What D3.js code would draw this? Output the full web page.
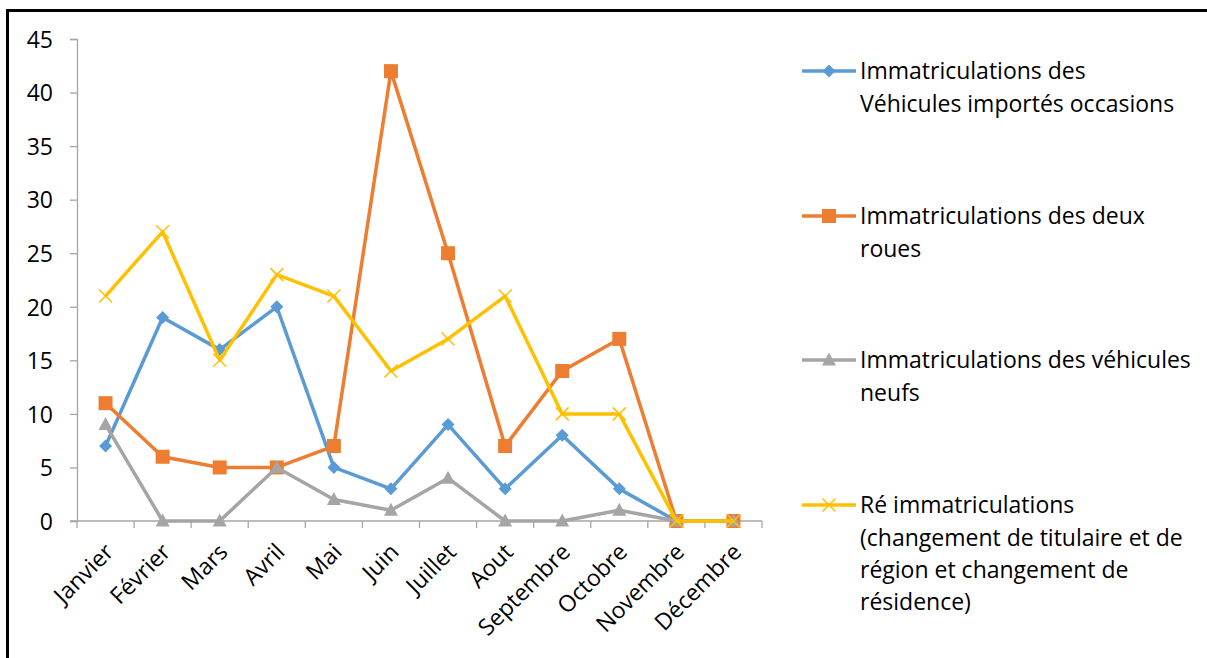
<!DOCTYPE html>
<html lang="fr">
<head>
<meta charset="utf-8">
<title>Immatriculations par mois</title>
<script src="https://cdnjs.cloudflare.com/ajax/libs/d3/7.8.5/d3.min.js"></script>
<style>
body { margin: 0; background: #fff; }
text { font-family: "Open Sans", sans-serif; fill: #000; }
.axis path, .axis line { stroke: #a6a6a6; stroke-width: 1.3; }
</style>
</head>
<body>
<div id="chart"></div>
<script>

var months = ["Janvier", "Février", "Mars", "Avril", "Mai", "Juin", "Juillet",
              "Aout", "Septembre", "Octobre", "Novembre", "Décembre"];

var importes = [7, 19, 16, 20, 5, 3, 9, 3, 8, 3, 0, 0];
var deuxRoues = [11, 6, 5, 5, 7, 42, 25, 7, 14, 17, 0, 0];
var neufs = [9, 0, 0, 5, 2, 1, 4, 0, 0, 1, 0, 0];
var reImmat = [21, 27, 15, 23, 21, 14, 17, 21, 10, 10, 0, 0];

var yTicks = [0, 5, 10, 15, 20, 25, 30, 35, 40, 45];

var series = [
    {lines: ["Immatriculations des", "Véhicules importés occasions"], values: importes, color: "#5b9bd5", marker: "diamond"},
    {lines: ["Immatriculations des deux", "roues"], values: deuxRoues, color: "#ed7d31", marker: "square"},
    {lines: ["Immatriculations des véhicules", "neufs"], values: neufs, color: "#a5a5a5", marker: "triangle"},
    {lines: ["Ré immatriculations", "(changement de titulaire et de", "région et changement de", "résidence)"], values: reImmat, color: "#ffc000", marker: "cross"}
];

var W = 1207, H = 658;
var plot = {left: 77, right: 762, top: 39, bottom: 521};
var fontSize = "23px";

var svg = d3.select("#chart").append("svg")
    .attr("width", W)
    .attr("height", H);

// frame
svg.append("path")
    .attr("d", "M7.5," + H + "V10.5H" + W)
    .attr("fill", "none")
    .attr("stroke", "#000")
    .attr("stroke-width", 3);

var x = d3.scaleBand().domain(months).range([plot.left, plot.right]);
var y = d3.scaleLinear().domain([0, 45]).range([plot.bottom, plot.top]);

var cx = function(i) { return x(months[i]) + x.bandwidth() / 2; };

// y axis
var yAxis = svg.append("g")
    .attr("class", "axis")
    .attr("transform", "translate(" + plot.left + ",0)")
    .call(d3.axisLeft(y).tickValues(yTicks).tickSize(7).tickSizeOuter(7).tickPadding(0));
yAxis.selectAll("text")
    .attr("x", -24)
    .attr("dy", "0.36em")
    .style("font-size", fontSize);

// x axis, ticks on band boundaries
var xAxis = svg.append("g")
    .attr("class", "axis")
    .attr("transform", "translate(0," + plot.bottom + ")");
xAxis.append("line")
    .attr("x1", plot.left - 7).attr("x2", plot.right);
var bounds = months.map(function(m) { return x(m); }).concat([plot.right]);
xAxis.selectAll(".tick")
    .data(bounds)
    .enter().append("line")
        .attr("x1", function(d) { return d; })
        .attr("x2", function(d) { return d; })
        .attr("y1", 0)
        .attr("y2", 7);
xAxis.selectAll(".label")
    .data(months)
    .enter().append("text")
        .attr("class", "label")
        .attr("transform", function(d) { return "translate(" + (x(d) + x.bandwidth() / 2 - 2) + ",21) rotate(-45)"; })
        .attr("text-anchor", "end")
        .attr("dy", "0.7em")
        .style("font-size", fontSize)
        .text(function(d) { return d; });

var line = d3.line()
    .x(function(d, i) { return cx(i); })
    .y(function(d) { return y(d); });

function drawMarker(g, type, color) {
    if (type == "diamond") {
        g.append("path").attr("d", "M0,-6.5L6.5,0L0,6.5L-6.5,0Z").attr("fill", color);
    } else if (type == "square") {
        g.append("rect").attr("x", -7).attr("y", -7).attr("width", 14).attr("height", 14).attr("fill", color);
    } else if (type == "triangle") {
        g.append("path").attr("d", "M0,-7.5L7,5.5L-7,5.5Z").attr("fill", color);
    } else if (type == "cross") {
        g.append("path").attr("d", "M-6.5,-6.5L6.5,6.5M-6.5,6.5L6.5,-6.5")
            .attr("stroke", color).attr("stroke-width", 1.5).attr("fill", "none");
    }
}

series.forEach(function(s) {
    var g = svg.append("g");
    g.append("path")
        .attr("d", line(s.values))
        .attr("fill", "none")
        .attr("stroke", s.color)
        .attr("stroke-width", 3.5)
        .attr("stroke-linejoin", "round");
    g.selectAll(".pt")
        .data(s.values)
        .enter().append("g")
            .attr("transform", function(d, i) { return "translate(" + cx(i) + "," + y(d) + ")"; })
            .each(function() { drawMarker(d3.select(this), s.marker, s.color); });
});

// legend
var legendY = [71, 216, 360, 505];
var legend = svg.append("g");
series.forEach(function(s, k) {
    var g = legend.append("g").attr("transform", "translate(802," + legendY[k] + ")");
    g.append("line")
        .attr("x1", 0).attr("x2", 54)
        .attr("stroke", s.color).attr("stroke-width", 3.5);
    var m = g.append("g").attr("transform", "translate(27,0)");
    drawMarker(m, s.marker, s.color);
    g.selectAll("text")
        .data(s.lines)
        .enter().append("text")
            .attr("x", 58)
            .attr("y", function(d, i) { return i * 32.3; })
            .attr("dy", "0.36em")
            .style("font-size", fontSize)
            .text(function(d) { return d; });
});

</script>
</body>
</html>
